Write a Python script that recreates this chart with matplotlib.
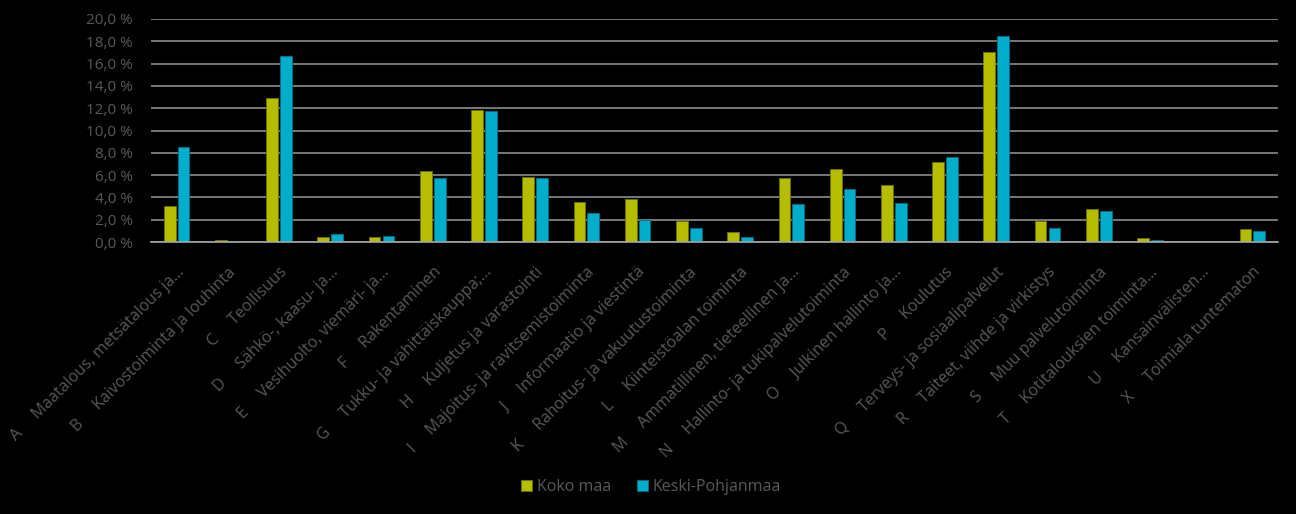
import matplotlib.pyplot as plt
import numpy as np
from matplotlib.ticker import FuncFormatter

plt.rcParams['font.family'] = ['Open Sans', 'DejaVu Sans']

# toimialat
codes = ['A', 'B', 'C', 'D', 'E', 'F', 'G', 'H', 'I', 'J', 'K', 'L', 'M',
         'N', 'O', 'P', 'Q', 'R', 'S', 'T', 'U', 'X']
names = ['Maatalous, metsätalous ja...', 'Kaivostoiminta ja louhinta',
         'Teollisuus', 'Sähkö-, kaasu- ja...', 'Vesihuolto, viemäri- ja...',
         'Rakentaminen', 'Tukku- ja vähittäiskauppa;...',
         'Kuljetus ja varastointi', 'Majoitus- ja ravitsemistoiminta',
         'Informaatio ja viestintä', 'Rahoitus- ja vakuutustoiminta',
         'Kiinteistöalan toiminta', 'Ammatillinen, tieteellinen ja...',
         'Hallinto- ja tukipalvelutoiminta', 'Julkinen hallinto ja...',
         'Koulutus', 'Terveys- ja sosiaalipalvelut',
         'Taiteet, viihde ja virkistys', 'Muu palvelutoiminta',
         'Kotitalouksien toiminta...', 'Kansainvälisten...',
         'Toimiala tuntematon']

koko_maa = [3.2, 0.18, 12.9, 0.45, 0.45, 6.36, 11.83, 5.83, 3.57, 3.84, 1.89,
            0.87, 5.7, 6.58, 5.13, 7.15, 17.0, 1.89, 2.94, 0.36, 0.0, 1.14]
keski_pohjanmaa = [8.54, 0.12, 16.7, 0.69, 0.51, 5.73, 11.77, 5.77, 2.58,
                   1.98, 1.26, 0.45, 3.42, 4.77, 3.51, 7.66, 18.5, 1.26, 2.82,
                   0.18, 0.0, 0.99]

labels = [f'{c}     {n}' for c, n in zip(codes, names)]

fig = plt.figure(figsize=[12.96, 5.14], dpi=100, facecolor='black')
ax = fig.add_axes([151/1296, 1-242/514, (1278-151)/1296, (242-19)/514])
ax.set_facecolor('black')

x = np.arange(len(codes))
w = 0.23
gap = 0.04
ax.bar(x - (w+gap)/2, koko_maa, w, color='#B5BD00', edgecolor='#6E7300',
       linewidth=0.6, label='Koko maa', zorder=3)
ax.bar(x + (w+gap)/2, keski_pohjanmaa, w, color='#00AECB', edgecolor='#00708A',
       linewidth=0.6, label='Keski-Pohjanmaa', zorder=3)

ax.set_xlim(-0.5, len(codes)-0.5)
ax.set_ylim(0, 20)
ax.set_yticks(np.arange(0, 21, 2))
ax.yaxis.set_major_formatter(FuncFormatter(lambda v, p: f'{v:.1f} %'.replace('.', ',')))
ax.grid(axis='y', color='#8C8C8C', linewidth=1.2, zorder=0)

for s in ['top', 'right', 'left']:
    ax.spines[s].set_visible(False)
ax.spines['bottom'].set_color('#A6A6A6')
ax.spines['bottom'].set_linewidth(1.2)
ax.spines['bottom'].set_zorder(4)

ax.tick_params(axis='y', length=0, pad=13, labelsize=11, labelcolor='#595959')
ax.tick_params(axis='x', length=0, pad=16, labelsize=11.5, labelcolor='#595959')
ax.set_xticks(x + 0.0)
ax.set_xticklabels(labels, rotation=45, ha='right', va='top',
                   rotation_mode='anchor')

leg = ax.legend(loc='center', bbox_to_anchor=(651/1296, 1-487/514),
                bbox_transform=fig.transFigure, ncol=2, frameon=False,
                fontsize=11.5, handlelength=0.7, handleheight=0.7,
                handletextpad=0.3, columnspacing=1.6)
for t in leg.get_texts():
    t.set_color('#595959')

fig.savefig('out.png', dpi=100, facecolor='black')
